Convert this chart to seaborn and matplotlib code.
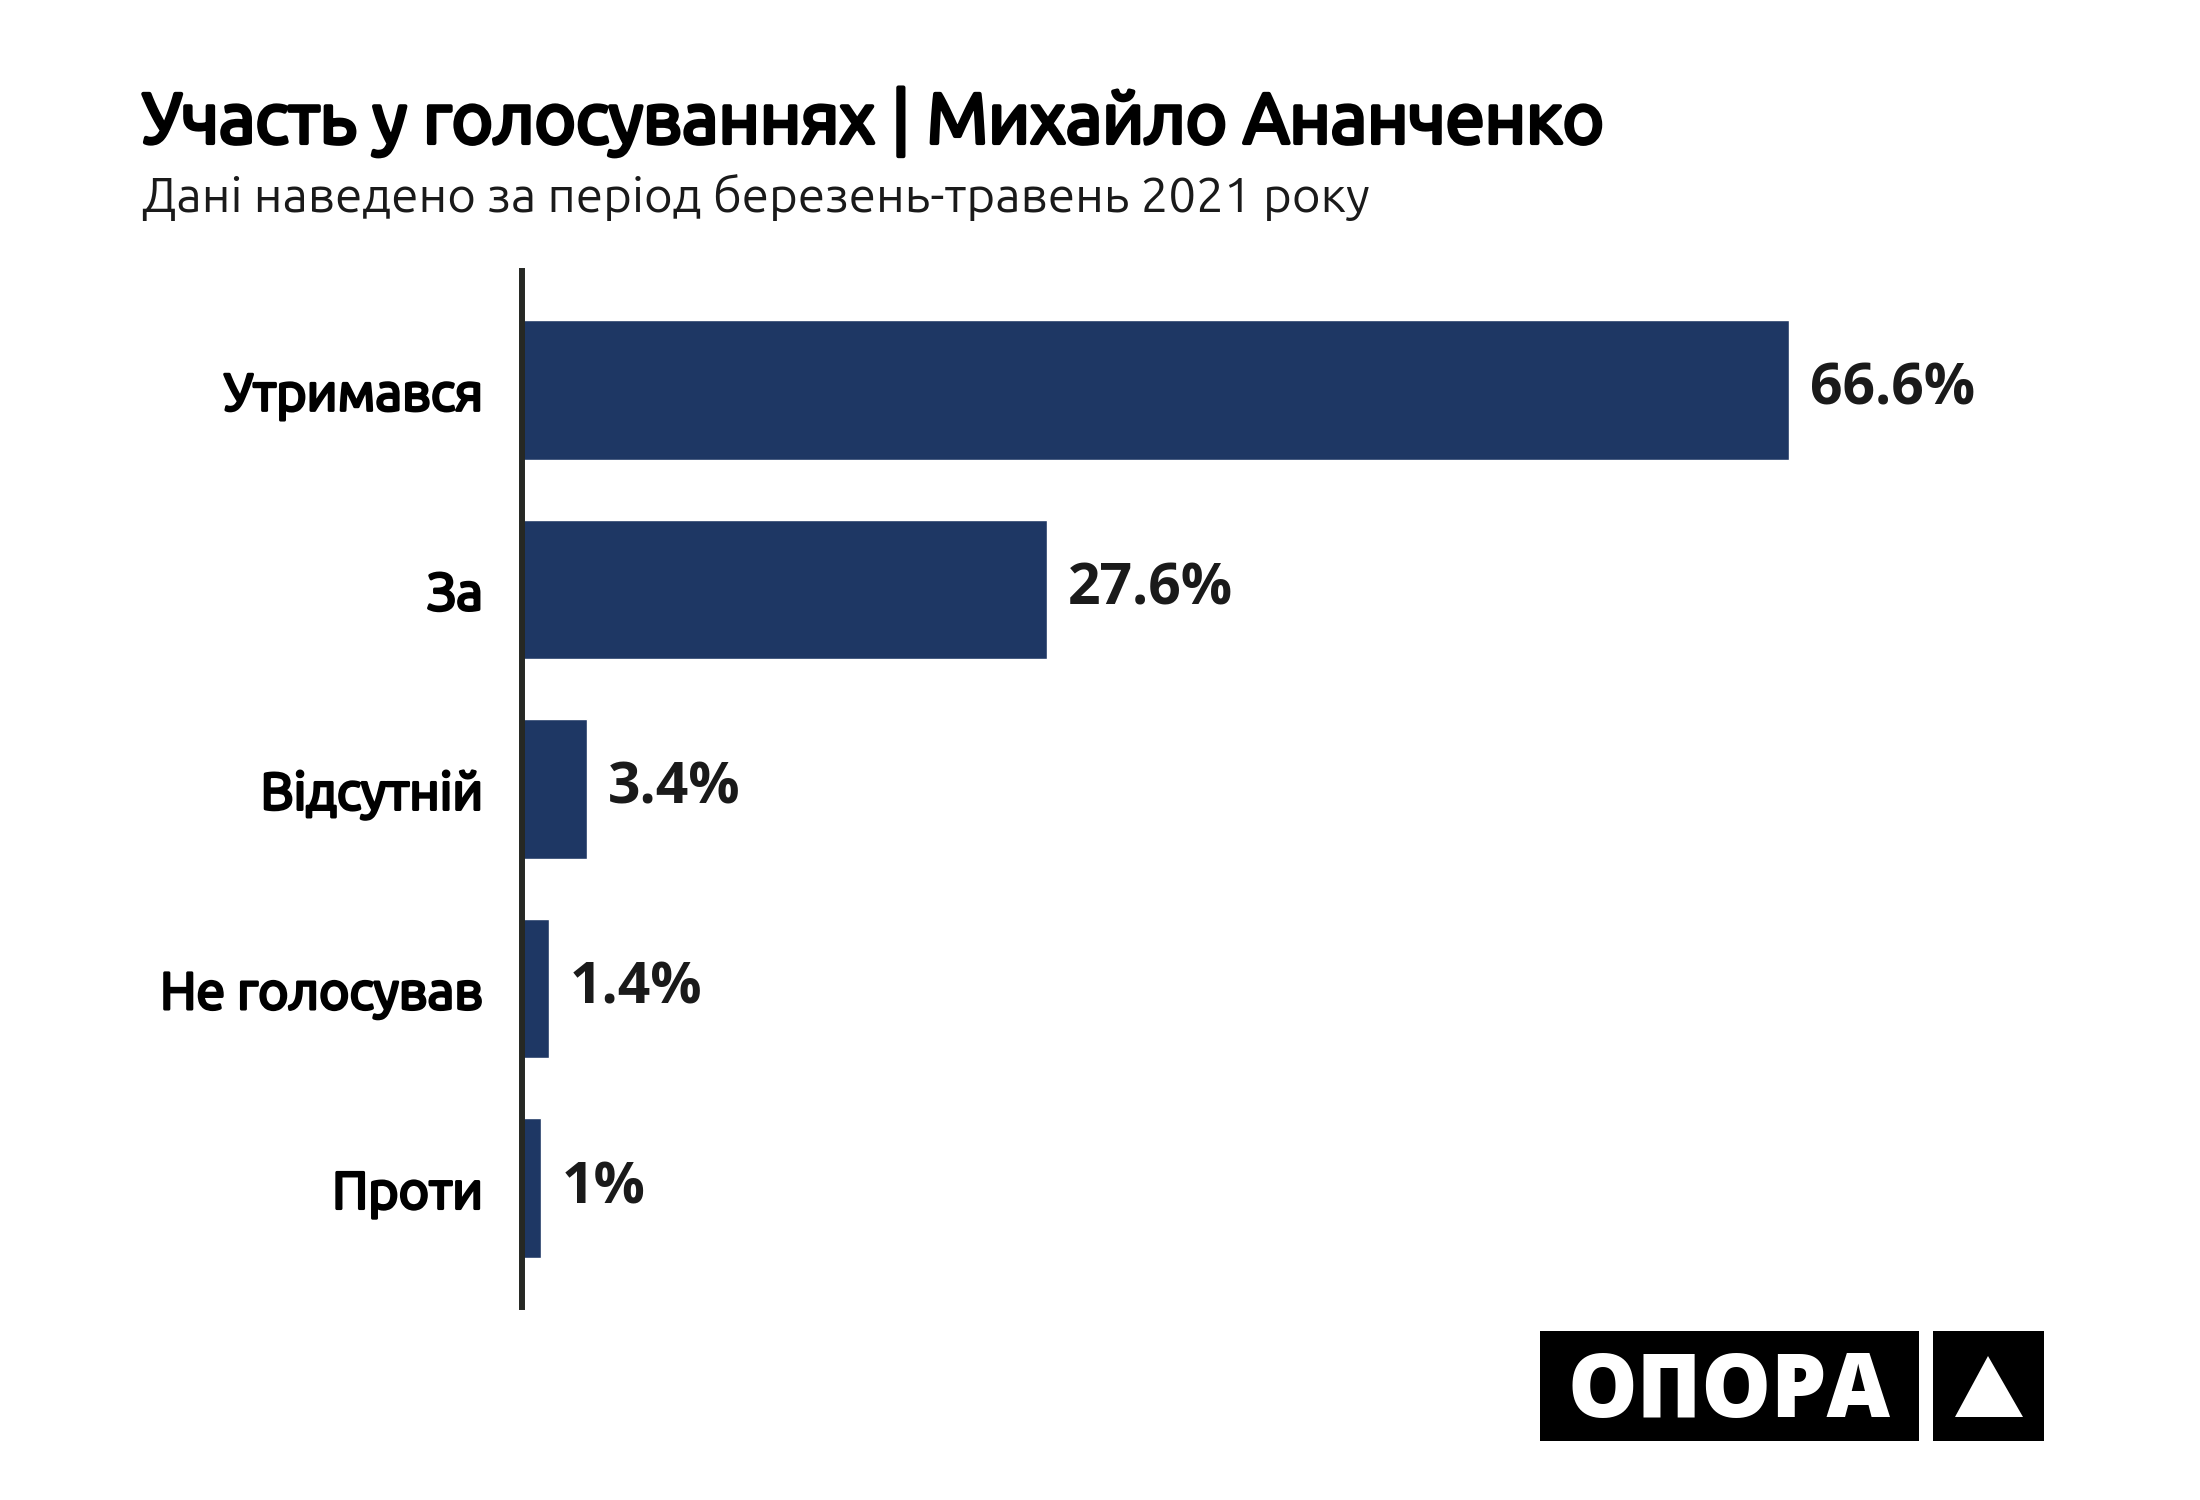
import matplotlib
matplotlib.use('Agg')
import matplotlib.pyplot as plt
import matplotlib.patches as mpatches
import matplotlib.patheffects as pe
from matplotlib import font_manager
import seaborn as sns
import pandas as pd

# Дані
categories = ['Утримався', 'За', 'Відсутній', 'Не голосував', 'Проти']
values = [66.6, 27.6, 3.4, 1.4, 1.0]
value_labels = ['66.6%', '27.6%', '3.4%', '1.4%', '1%']

title = 'Участь у голосуваннях | Михайло Ананченко'
subtitle = 'Дані наведено за період березень-травень 2021 року'
logo_text = 'ОПОРА'

bar_color = '#1e3764'
num_fonts = ['Open Sans', 'DejaVu Sans']


# шукаємо Ubuntu потрібної товщини, інакше імітуємо жирний обводкою
def ubuntu_face(lo, hi):
    for f in font_manager.fontManager.ttflist:
        if f.name.startswith('Ubuntu') and 'Mono' not in f.name and 'Condensed' not in f.name \
                and f.style == 'normal' and lo <= int(f.weight) <= hi:
            return f.name
    return None


bold_face = ubuntu_face(650, 800)
light_face = ubuntu_face(250, 350)
if bold_face:
    bold_fonts = [bold_face, 'Open Sans', 'DejaVu Sans']
    fake_bold = lambda w: None
else:
    bold_fonts = ['Ubuntu', 'Open Sans', 'DejaVu Sans']
    fake_bold = lambda w: [pe.withStroke(linewidth=w, foreground='black')]
light_fonts = [light_face or 'Ubuntu', 'Open Sans', 'DejaVu Sans']

sns.set_theme(style='white')
plt.rcParams['font.family'] = bold_fonts

df = pd.DataFrame({'category': categories, 'value': values})

W, H = 2200, 1500
fig = plt.figure(figsize=(22, 15), dpi=100)
ax = fig.add_axes([522 / W, 1 - 1307 / H, (2044 - 522) / W, (1307 - 271) / H])

sns.barplot(data=df, x='value', y='category', color=bar_color, saturation=1,
            width=0.70, orient='h', ax=ax)

ax.set_xlim(0, 80)
ax.set_ylim(4.596, -0.596)
ax.bar_label(ax.containers[0], labels=value_labels, padding=15,
             fontsize=41, fontweight='bold', color='#1a1a1a', family=num_fonts)

ax.set_xlabel('')
ax.set_ylabel('')
ax.set_xticks([])
ax.tick_params(axis='y', length=0, pad=28)
for lab in ax.get_yticklabels():
    lab.set_fontsize(37.5)
    lab.set_fontweight('bold')
    lab.set_color('#000000')
    lab.set_family(bold_fonts)
    lab.set_path_effects(fake_bold(2.2) or [])

for s in ['top', 'right', 'bottom']:
    ax.spines[s].set_visible(False)
ax.spines['left'].set_color('#262824')
ax.spines['left'].set_linewidth(4.3)
ax.grid(False)

# Заголовки
t = fig.text(142 / W, 1 - 143 / H, title, fontsize=51, fontweight='bold',
             color='#000000', ha='left', va='baseline', family=bold_fonts)
t.set_path_effects(fake_bold(3.0) or [])
fig.text(142 / W, 1 - 212 / H, subtitle, fontsize=35.5, fontweight='light',
         color='#1a1a1a', ha='left', va='baseline', family=light_fonts)

# Логотип
fig.patches.append(mpatches.Rectangle((1540 / W, 1 - 1441 / H), (1919 - 1540) / W,
                                      (1441 - 1331) / H, transform=fig.transFigure,
                                      facecolor='black', edgecolor='none'))
fig.patches.append(mpatches.Rectangle((1933 / W, 1 - 1441 / H), (2044 - 1933) / W,
                                      (1441 - 1331) / H, transform=fig.transFigure,
                                      facecolor='black', edgecolor='none'))
fig.patches.append(mpatches.Polygon([(1955 / W, 1 - 1417 / H), (2023 / W, 1 - 1417 / H),
                                     (1988 / W, 1 - 1356 / H)], closed=True,
                                    transform=fig.transFigure, facecolor='white',
                                    edgecolor='none'))
fig.text((1540 + 1919) / 2 / W, 1 - 1417 / H, logo_text, fontsize=63,
         fontweight=800, color='white', ha='center', va='baseline', family=num_fonts)

fig.savefig('out.png', dpi=100, facecolor='white')
